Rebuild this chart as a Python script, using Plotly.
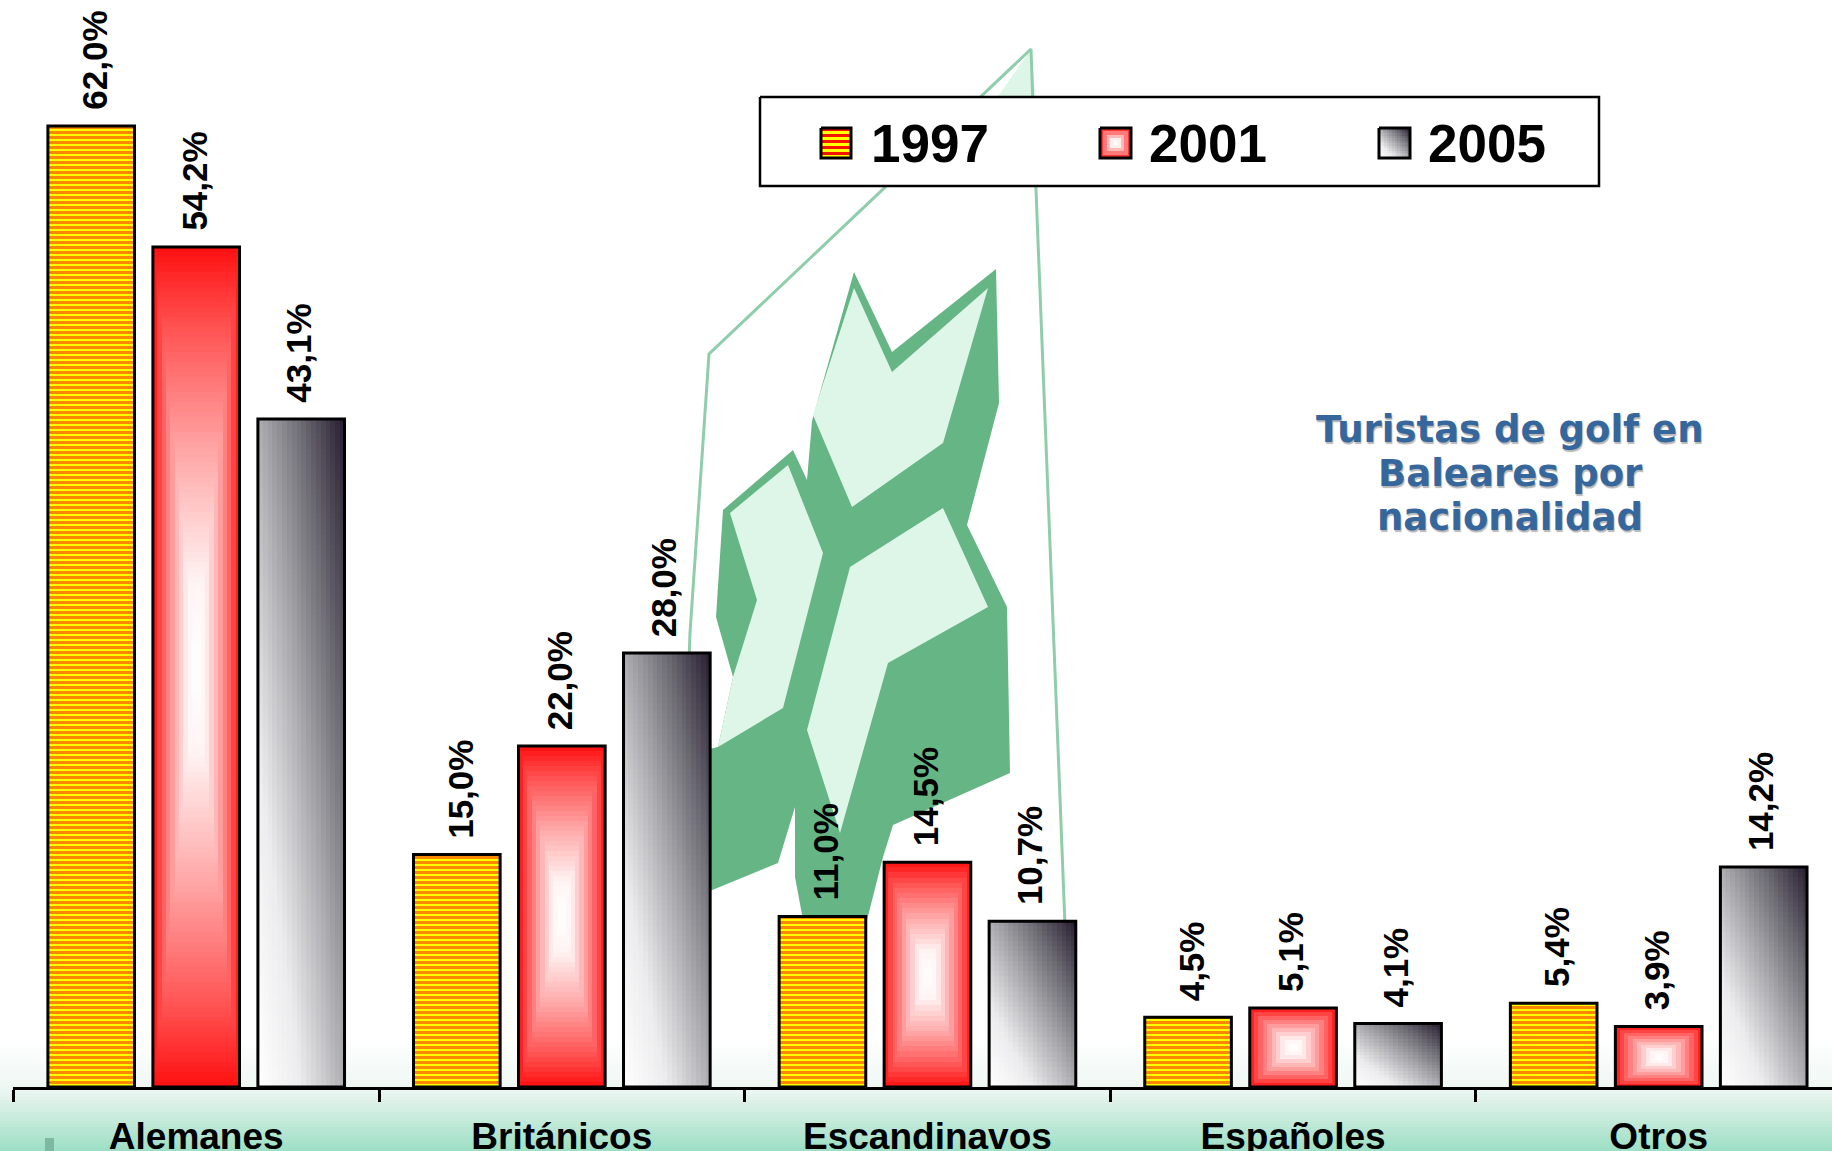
import numpy as np
import plotly.graph_objects as go

# ---------- data ----------
categories = ["Alemanes", "Británicos", "Escandinavos", "Españoles", "Otros"]
years = ["1997", "2001", "2005"]
values_1997 = [62.0, 15.0, 11.0, 4.5, 5.4]
values_2001 = [54.2, 22.0, 14.5, 5.1, 3.9]
values_2005 = [43.1, 28.0, 10.7, 4.1, 14.2]
title_lines = ["Turistas de golf en", "Baleares por", "nacionalidad"]

# ---------- style ----------
W, H = 1832, 1151
FONT = "Liberation Sans"
BARGAP, GROUPGAP = 0.1384, 0.175
SLOT = (1 - BARGAP) / 3
BAR_W = SLOT * (1 - GROUPGAP)
RED_SCALE = [[0, "#ffffff"], [0.2, "#fff4f4"], [0.5, "#ffaaaa"], [0.8, "#ff5555"], [1, "#ff1010"]]
GRAY_SCALE = [[0, "#ffffff"], [0.25, "#ececee"], [0.5, "#aeaeb2"], [0.75, "#6c6a72"], [1, "#261c30"]]
BG_SCALE = [[0, "#ffffff"], [0.25, "#ffffff"], [0.58, "#eef7f3"], [0.66, "#e0f2ea"], [1, "#9cdfc4"]]
DARK = "#66b585"
PALE = "#def6e8"
LABEL_XSHIFT = [3, -2, -3]


def path_gradient(nx, ny):
    u, v = np.meshgrid((np.arange(nx) + 0.5) / nx * 2 - 1, (np.arange(ny) + 0.5) / ny * 2 - 1)
    return np.maximum(np.abs(u), np.abs(v))


def diag_gradient(nx, ny):
    u, v = np.meshgrid((np.arange(nx) + 0.5) / nx, (np.arange(ny) + 0.5) / ny)
    return (u + v) / 2


def rows_for(value):
    return max(20, int(value * 15.5 / 5))


def hm(x0, x1, y0, y1, z, scale, xa, ya):
    ny, nx = z.shape
    return go.Heatmap(x=np.linspace(x0, x1, nx + 1), y=np.linspace(y0, y1, ny + 1), z=z,
                      zmin=0, zmax=1, colorscale=scale, showscale=False, hoverinfo="skip",
                      xaxis=xa, yaxis=ya)


def poly(pts, fill, line=None, lw=0, xa="x", ya="y", closed=True):
    xs = [p[0] for p in pts] + ([pts[0][0]] if closed else [])
    ys = [p[1] for p in pts] + ([pts[0][1]] if closed else [])
    return go.Scatter(x=xs, y=ys, mode="lines", fill="toself" if fill else "none", fillcolor=fill,
                      line=dict(color=line or "rgba(0,0,0,0)", width=lw), hoverinfo="skip",
                      showlegend=False, xaxis=xa, yaxis=ya)


fig = go.Figure()

# page background band
bg_z = ((np.arange(50) + 0.5) / 50).reshape(-1, 1)
fig.add_trace(hm(0, W, 1000, H, bg_z, BG_SCALE, "x", "y"))

# watermark logo
fig.add_trace(poly([(1031, 49), (1037, 115), (985, 115)], PALE))
fig.add_trace(poly([(680, 900), (690, 633), (709, 354), (1031, 49), (1036, 190), (1048, 500), (1065, 925)],
                   None, "#8fcdab", 3, closed=False))
fig.add_trace(poly([(854, 272), (892, 352), (996, 269), (999, 403), (967, 525), (1007, 607), (1010, 773),
                    (893, 825), (883, 857), (867, 920), (803, 920), (795, 877), (795, 807), (778, 863),
                    (705, 893), (705, 750), (718, 747), (733, 677), (716, 617), (723, 510), (793, 450),
                    (807, 480), (812, 421)], DARK))
fig.add_trace(poly([(854, 288), (892, 372), (988, 288), (943, 443), (852, 507), (813, 415)], PALE))
fig.add_trace(poly([(730, 513), (788, 465), (823, 553), (783, 708), (718, 747), (733, 677), (757, 600)], PALE))
fig.add_trace(poly([(850, 567), (943, 508), (988, 607), (888, 663), (840, 833), (807, 730)], PALE))
fig.add_trace(poly([(45, 1138), (54, 1138), (54, 1151), (45, 1151)], "#7db8a0"))

# legend box
fig.add_trace(poly([(760, 97), (1599, 97), (1599, 186), (760, 186)], "#ffffff", "#000000", 2.5))

# gradient fills, computed for each bar
for i, (a, b) in enumerate(zip(values_2001, values_2005)):
    fig.add_trace(hm(i - BAR_W / 2, i + BAR_W / 2, 0, a, path_gradient(20, rows_for(a)), RED_SCALE, "x2", "y2"))
    cx = i + SLOT
    fig.add_trace(hm(cx - BAR_W / 2, cx + BAR_W / 2, 0, b, diag_gradient(18, rows_for(b)), GRAY_SCALE, "x2", "y2"))

# bars
x_pos = list(range(len(categories)))
fig.add_trace(go.Bar(name=years[0], x=x_pos, y=values_1997, xaxis="x2", yaxis="y2",
                     marker=dict(color="#ffff00", line=dict(color="#000000", width=3),
                                 pattern=dict(shape="-", fgcolor="#f51200", bgcolor="#ffff00",
                                              size=5, solidity=0.6))))
for name, vals in ((years[1], values_2001), (years[2], values_2005)):
    fig.add_trace(go.Bar(name=name, x=x_pos, y=vals, xaxis="x2", yaxis="y2",
                         marker=dict(color="rgba(0,0,0,0)", line=dict(color="#000000", width=3))))

# custom legend swatches
stripes = np.array([[0], [1]] * 5, dtype=float)
fig.add_trace(hm(821, 851, 128, 158, stripes, [[0, "#f51200"], [1, "#ffff00"]], "x3", "y3"))
fig.add_trace(hm(1100, 1131, 128, 158, path_gradient(9, 9), RED_SCALE, "x3", "y3"))
fig.add_trace(hm(1379, 1410, 128, 158, np.flipud(diag_gradient(12, 12)), GRAY_SCALE, "x3", "y3"))
for x0, x1 in ((821, 851), (1100, 1131), (1379, 1410)):
    fig.add_trace(poly([(x0, 128), (x1, 128), (x1, 158), (x0, 158)], None, "#000000", 3, "x3", "y3"))

# annotations
ann = []
for j, vals in enumerate((values_1997, values_2001, values_2005)):
    for i, v in enumerate(vals):
        ann.append(dict(x=i + (j - 1) * SLOT, y=v, xref="x2", yref="y2", text=f"{v:.1f}%".replace(".", ","),
                        textangle=-90, showarrow=False, yanchor="bottom", xanchor="center", yshift=14,
                        xshift=LABEL_XSHIFT[j], font=dict(family=FONT, size=35, color="#000000", weight=700)))
for t, x in zip(years, (869, 1147, 1426)):
    ann.append(dict(x=x, y=143, xref="x3", yref="y3", text=t, showarrow=False, xanchor="left", yanchor="middle",
                    font=dict(family=FONT, size=53, color="#000000", weight=700)))
for line, y in zip(title_lines, (429, 473, 517)):
    ann.append(dict(x=1510, y=y, xref="x3", yref="y3", text=line, showarrow=False,
                    align="center", xanchor="center", yanchor="middle",
                    font=dict(family="DejaVu Sans", size=37, color="#36679c", weight=700,
                              shadow="1px 2px 1px #b8b8b8")))

pixel_x = dict(domain=[0, 1], range=[0, W], visible=False, fixedrange=True, automargin=False)
pixel_y = dict(domain=[0, 1], range=[H, 0], visible=False, fixedrange=True, automargin=False)

fig.update_layout(
    width=W, height=H, margin=dict(l=0, r=0, t=0, b=0, autoexpand=False),
    paper_bgcolor="#ffffff", plot_bgcolor="rgba(0,0,0,0)", showlegend=False,
    barmode="group", bargap=BARGAP, bargroupgap=GROUPGAP,
    xaxis=pixel_x, yaxis=dict(pixel_y, anchor="x"),
    xaxis3=dict(pixel_x, anchor="y3"), yaxis3=dict(pixel_y, anchor="x3"),
    xaxis2=dict(domain=[13.4 / W, 1], range=[-0.5, 4.474], anchor="y2", showline=True, linecolor="#000000",
                linewidth=2.5, showgrid=False, zeroline=False, tickmode="array", tickvals=x_pos,
                ticktext=categories, ticks="", ticklabelstandoff=15, automargin=False,
                tickfont=dict(family=FONT, size=37, color="#000000", weight=700),
                minor=dict(tickmode="array", tickvals=[i - 0.5 for i in range(len(categories) + 1)],
                           ticks="outside", ticklen=12, tickwidth=2.5, tickcolor="#000000", showgrid=False)),
    yaxis2=dict(domain=[64 / H, 1], range=[0, 1087 / 15.5], anchor="x2", visible=False, fixedrange=True,
                automargin=False),
    annotations=ann,
)

fig.write_html("out.html", config={"displayModeBar": False},
               post_script="document.body.style.margin='0';document.body.style.overflow='hidden';")
